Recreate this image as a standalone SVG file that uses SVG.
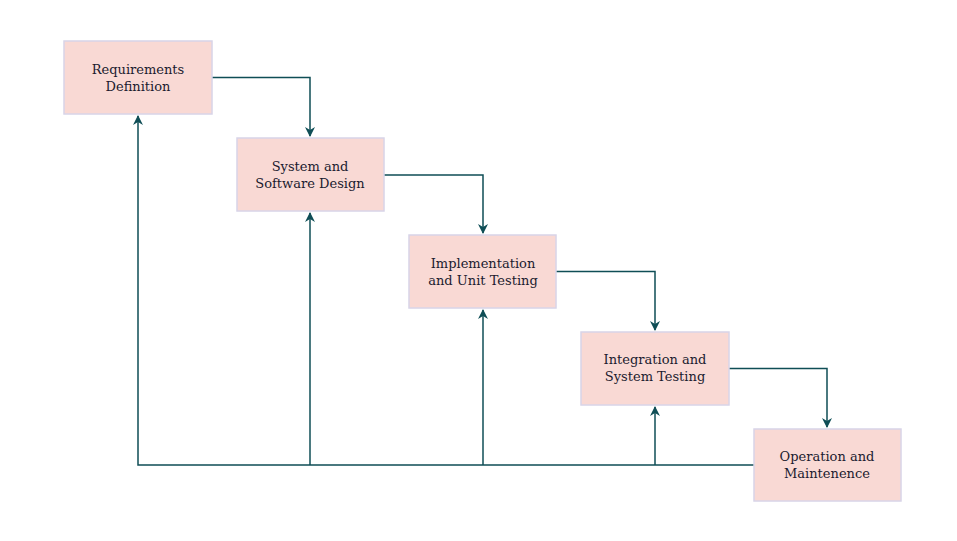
<svg xmlns="http://www.w3.org/2000/svg" width="957" height="541" viewBox="0 0 957 541">
<style>
.box{fill:#F9D9D4;stroke:#D8D4E8;stroke-width:1.5}
.lbl{font-family:"DejaVu Serif","Liberation Serif",serif;font-size:13px;fill:#1B1B2F;text-anchor:middle}
.c{fill:none;stroke:#0F4E56;stroke-width:1.5}
</style>
<defs>
<marker id="ah" viewBox="0 0 10 10" refX="9" refY="5" markerWidth="10" markerHeight="10" markerUnits="userSpaceOnUse" orient="auto">
<path d="M0,0 L10,5 L0,10 L3,5 Z" fill="#0F4E56"/>
</marker>
</defs>
<rect width="957" height="541" fill="#fff"/>
<g id="connectors">
<path class="c" d="M212,77.5 H310 V136" marker-end="url(#ah)"/>
<path class="c" d="M384,175 H483 V233" marker-end="url(#ah)"/>
<path class="c" d="M556,271.5 H655 V330" marker-end="url(#ah)"/>
<path class="c" d="M729,368.5 H827 V427" marker-end="url(#ah)"/>
<path class="c" d="M754,465 H138 V116" marker-end="url(#ah)"/>
<path class="c" d="M310,465 V213" marker-end="url(#ah)"/>
<path class="c" d="M483,465 V310" marker-end="url(#ah)"/>
<path class="c" d="M655,465 V407" marker-end="url(#ah)"/>
</g>
<g id="n1"><rect class="box" x="64" y="41" width="148" height="73"/><text class="lbl" x="138" y="74">Requirements</text><text class="lbl" x="138" y="91">Definition</text></g>
<g id="n2"><rect class="box" x="237" y="138" width="147" height="73"/><text class="lbl" x="310" y="171">System and</text><text class="lbl" x="310" y="188">Software Design</text></g>
<g id="n3"><rect class="box" x="409" y="235" width="147" height="73"/><text class="lbl" x="483" y="268">Implementation</text><text class="lbl" x="483" y="285">and Unit Testing</text></g>
<g id="n4"><rect class="box" x="581" y="332" width="148" height="73"/><text class="lbl" x="655" y="364">Integration and</text><text class="lbl" x="655" y="381">System Testing</text></g>
<g id="n5"><rect class="box" x="754" y="429" width="147" height="72"/><text class="lbl" x="827" y="461">Operation and</text><text class="lbl" x="827" y="478">Maintenence</text></g>
</svg>
